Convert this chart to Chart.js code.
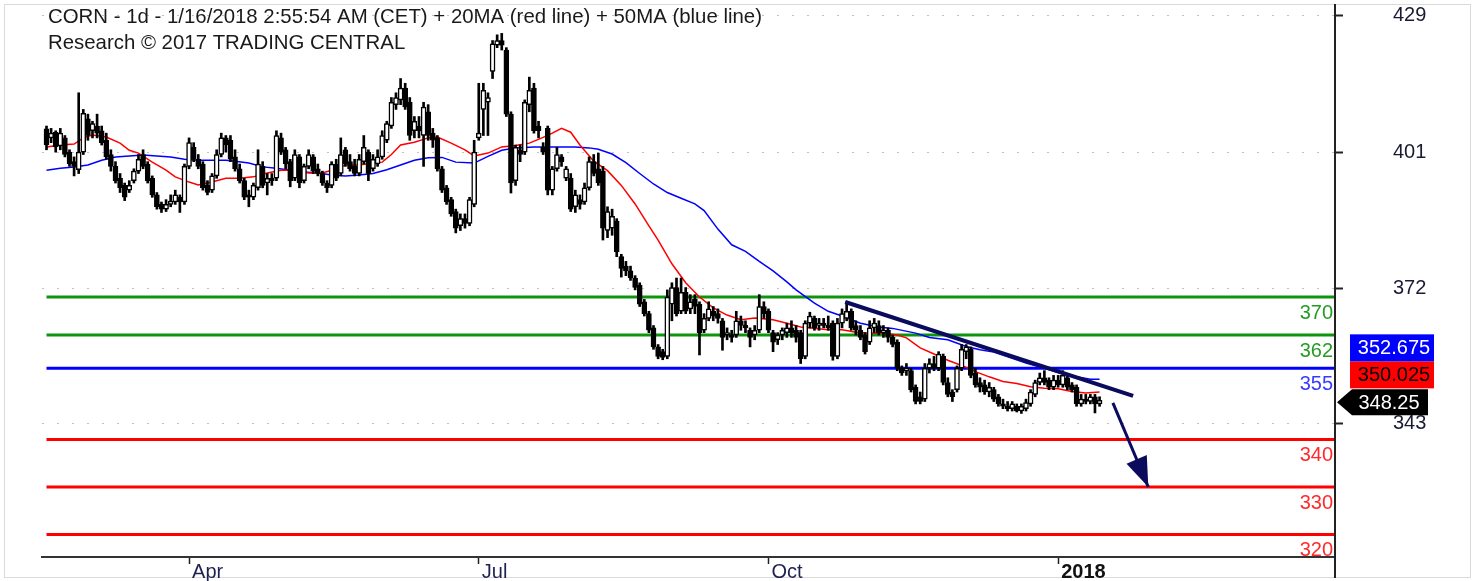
<!DOCTYPE html>
<html>
<head>
<meta charset="utf-8">
<title>CORN 1d</title>
<script src="https://cdn.jsdelivr.net/npm/chart.js@4.4.1/dist/chart.umd.min.js"></script>
<style>
  html, body { margin: 0; padding: 0; background: #fff; }
</style>
</head>
<body>
<canvas id="myChart" width="1477" height="581"></canvas>
<script>
// daily candles, x = trading day index (0 = mid Feb 2017)
const opens = [
  405.4,403.5,404.7,401.8,403.5,400.5,398.5,396.8,400.5,407.5,
  405,406,405,403,400,397.5,395,393.5,392.5,394.5,
  396.5,400,398,395,391.5,389.5,388.5,389.5,390,391,
  390,397.5,401.5,399,398,393.5,392.5,395.5,400,403.5,
  403,399.5,397,394.5,391.5,391,393,397.5,394,395,
  395,403.5,401,398.5,395,399.5,394.5,397.5,399.5,397,
  396,394,393.5,398,396,401,398.5,397.5,396,398.5,
  400.5,397,398,399.5,403,406,410.5,411.5,414,411,
  405,406,404,409,404.5,403.5,397,393,390.5,388,
  385,386.5,385.5,389.5,403.5,409.5,411,417.5,423,424,
  422,408.5,394.5,401,400.5,410.5,414,406,401.5,405.5,
  392.5,397,399.5,395,395,389,390.5,390,393,398.5,
  397,396.5,384,384.5,386,378.5,376.5,375.5,374,372.5,
  369,366.5,363.5,359.5,358.5,357.5,368.5,372,367,371,
  367.5,369.5,368.5,363,365.5,367,366.5,365,362,362,
  362,365,364,363,362,363,368,367,362.5,361,
  362,362.5,363.5,363,362.5,357.5,364.5,365.5,364,364.5,
  364,364.5,357.5,364.5,365.5,367,364,363,362,360.5,
  363.5,364,362.5,363,361.5,360.5,355,354.5,354.5,351,
  349,348.5,355,356,355,357.5,352,350,350.5,355,
  358.5,359,354,352,351.5,350,350.5,349,347.5,347,
  346.5,347,346,346.5,347.5,349.5,352,353,352.5,351,
  352.5,351.5,353,351.5,351,347.5,348.5,348,349,347.5
];
const highs = [
  406,405.5,405,405.5,404,401,399.5,413,409.5,408.5,
  407,408.5,406,404.5,401,398.5,396,394,394.5,397,
  400,401,398.5,395.5,392,390,390.5,391.5,392.5,391.5,
  398,403.5,402.5,400,398.5,394.5,396,401,404.5,404,
  404,401,398,395,392.5,394,401,398.5,396,396,
  405,404.5,401.5,399,401,400,398,401,400,398,
  396.5,394.5,398.5,399,403.5,401.5,400,399,400,404,
  401,400,401,405,407,412,413,416,415,412,
  408,408,411,410.5,405.5,404,397.5,393.5,391,388.5,
  387.5,387.5,391,403,415,415,413,424,425.2,425.5,
  422.5,409,402,402,411.5,416.3,415,407,402.5,406,
  397.5,401.5,400,397.5,396,392.5,391.5,394,399.5,400,
  400.3,397.5,389,388.5,386.5,379,377.5,376.5,374.5,373,
  369.5,367,364,360,359,371.5,373,374,374,372,
  370.5,370.5,369,366.5,369,368,367.5,365.5,363.5,363,
  367,366,365,363.5,364,370.5,369,367.5,363,362.5,
  363.5,364.5,365,364,363,365,366.8,366,365.5,365.5,
  366,365,365.5,367.5,369,367.5,365,364,362.5,365,
  365.5,365,364,363.5,362,361,355.5,356,355,351.5,
  350,356,357,357.5,358.5,358,353,350.5,355.5,360,
  360,359.5,355,353,352.5,352,351,349.5,348.5,348,
  348,347.5,347.5,348.5,350.5,352.5,354,354.5,353,353.5,
  353.5,354.5,353.5,352,351.5,349.5,349.5,349.5,349.5,349
];
const lows = [
  401,402.5,400.5,401,399.5,397.5,395.5,396,400,403,
  403.5,403.5,402,399,396.5,394,392,390.3,392,394,
  396,397,394,391,388.5,387.8,388,389,389.5,387.8,
  389.5,397,398.5,397,392.5,391.5,392,395,399.5,400.5,
  398.5,396.5,394,390.5,389,390.5,392.5,393,391.5,393.5,
  394.5,400,397,393.2,394.5,393,394,397,396,395.5,
  393.5,392,393,394.5,395.5,397.5,396.5,395.5,395.5,398,
  394.5,396.5,397.5,399,402.5,405.5,409.5,410.5,409.5,403,
  403.5,403.5,397.5,403,401.5,396.5,392,389.5,387,383.5,
  384,384.5,385,389,403,404,404,416,422.5,422,
  408,391.9,393.5,398.5,400,409,404.5,403.5,400,391.5,
  391.5,396.5,397.5,394.5,388,387.8,388.5,389.5,392.5,395.5,
  393.5,382,382.5,383,378.5,374.2,374.5,373.5,371.5,368,
  366,362.5,359,357,356.8,357,365,366,366.5,366.5,
  366.5,366.5,357.8,362.5,365,365,364.5,358.8,361,360.5,
  361.5,363,362.5,359.5,361,362.5,365.5,362.5,358.5,360,
  361,361.5,361.5,360.5,356,357,363.5,363,363,363.5,
  363,356.7,357,363.5,365,363,362,361,358,360,
  362.5,362,361.5,360.5,359.5,354.5,353.5,353.5,350,347.5,
  347.5,348,354,354.5,354.5,351.5,349,348,350,354.5,
  357,353,351,350,349.5,349,348,347,346.5,346,
  346,345.8,345.5,346,347,349,351.5,351.5,350.5,350.5,
  351,351,350.5,350,347,347,347.5,347.5,345.6,347
];
const closes = [
  402,404.5,401.6,404.5,400,398,397.5,400.5,408.7,404,
  406.5,404.5,402.5,399.5,397.5,394.5,393,391,393.5,396.5,
  399,397.5,394.5,391.5,389,388.5,389.5,390.2,391.5,390,
  397.5,402.5,399,397.5,393,392,395.5,400,403.5,402,
  399,397,394.5,391,391,393.5,398,393.5,395,394.5,
  404,400.5,398,394.5,400,394,397.5,400,396.5,396,
  394,393,398,395,400,398,397,396,399,401.5,
  396,399,399.5,404,406.5,411,412,414,410,404,
  407,405,410,404,403,397,392.5,390,387.5,384.5,
  386.5,385.5,390.5,400.5,404.5,413.5,412,423.3,424,423,
  408.5,394,401.5,400,411,413.5,405,405,400.5,392.5,
  397,400,398.5,397,388.5,391.5,389.5,393,398.5,396,
  394,384.5,388,387,379.5,376,375.5,374,372,368.5,
  366.5,363,359.5,357.5,357.3,370,372,366.5,371,367,
  369,368,362.5,365.5,367.5,366,365.5,361.5,362.5,361.5,
  365,364,363.5,361.5,363,368,366.5,363,360.5,362,
  363,363.5,362.5,361.5,357,364.5,366,363.5,364.5,364,
  363.5,357.5,364.5,366.5,367,363.5,363,361.5,358.5,363.5,
  364.5,362.5,363,361.5,360,355,354,355,350.5,348,
  348,355,356,355,358,352,349.5,349,355,359,
  359.5,353.5,351.5,351,350,351,348.5,347.5,347,346.5,
  347.5,346,347,347.8,350,352,353,352,351,352.5,
  351.5,353.5,351,350.5,347.5,348.5,348,349,347.5,348.25
];

// moving averages (day index, value)
const ma20X = [0,3,6,8,10,13,16,18,20,23,26,28,31,33,36,39,42,45,48,51,54,57,60,62,65,68,71,73,75,77,
  80,83,85,88,91,93,96,99,102,105,108,110,112,114,116,119,122,125,128,131,133,136,139,142,145,148,151,154,158,161,
  164,170,173,176,179,182,185,187,190,193,196,199,202,205,208,211,214,217,220,223,226,229];
const ma20Y = [401.6,402.0,402.2,403.5,404.1,403.7,402.4,400.9,400.3,398.4,396.7,395.3,394.2,393.6,394.2,395.0,395.0,395.3,396.1,396.7,
  396.7,396.1,396.1,396.7,397.8,397.8,398.2,398.4,400.0,402.0,402.6,403.5,403.7,402.4,401.0,399.7,400.3,401.6,401.9,402.4,
  403.6,404.5,405.5,404.7,402.0,398.6,396.6,393.5,389.6,385.0,382.0,377.0,373.0,370.0,367.7,366.2,365.2,365.6,365.2,364.5,
  363.7,363.1,363.1,362.6,362.4,362.4,362.0,361.4,359.3,358.0,356.7,355.6,354.3,353.2,352.2,351.8,351.1,350.8,350.7,350.1,
  349.8,350.025];
const ma50X = [0,3,6,9,12,15,18,21,24,27,30,33,36,39,41,44,47,50,53,56,59,62,65,68,71,74,77,80,83,86,
  89,93,96,99,102,106,110,115,118,120,123,126,129,132,135,138,141,143,146,149,152,155,158,161,163,167,170,173,177,181,
  184,189,192,196,200,203,206,210,213,217,220,224,227,229];
const ma50Y = [396.7,397.1,397.4,397.8,398.8,399.5,399.7,399.9,399.7,399.5,399.0,398.8,398.8,398.8,398.6,398.2,397.4,397.1,396.7,396.3,
  396.1,395.7,395.5,395.7,396.0,396.8,397.8,398.8,399.3,399.4,398.4,398.2,399.6,400.9,401.4,401.6,401.6,401.6,401.4,401.1,
  400.1,398.3,396.0,393.8,392.0,390.8,389.6,388.2,384.3,381.0,379.6,377.5,375.5,373.2,371.5,368.7,367.0,366.0,364.5,363.7,
  363.4,362.4,361.5,361.0,359.6,358.9,358.4,357.1,356.1,355.0,354.1,353.2,352.7,352.675];

// support / resistance levels
const levelValues = [370, 362, 355, 340, 330, 320];
const levelColors = ['#0d960d', '#0d960d', '#0000ff', '#ff0000', '#ff0000', '#ff0000'];
const levelTextColors = ['#249c24', '#249c24', '#3a3aff', '#ff2a2a', '#ff2a2a', '#ff2a2a'];

const trendX = [173.7, 236.3];
const trendY = [368.95, 349.2];
const arrowX = [231.9, 239.6];
const arrowY = [347.7, 330.0];

const xTickIdx = [31, 94, 157, 220];
const xTickLabels = ['Apr', 'Jul', 'Oct', '2018'];
const yTickVals = [343.3, 371.75, 400.4, 429.2];
const yTickLabels = ['343', '372', '401', '429'];

const titleLines = [
  'CORN - 1d - 1/16/2018 2:55:54 AM (CET) + 20MA (red line) + 50MA (blue line)',
  'Research \u00a9 2017 TRADING CENTRAL'
];

const xMin = -0.98, xMax = 280.2;
const yMin = 315.27, yMax = 431.48;
const FONT = '"Liberation Sans", Arial, sans-serif';
const NAVY = '#0b0b5e';

const bodies = closes.map((c, i) => ({ x: i, y: [opens[i], c] }));
const wicks = closes.map((c, i) => ({ x: i, y: [lows[i], highs[i]] }));
const pts = (xs, ys) => xs.map((x, i) => ({ x: x, y: ys[i] }));

const levelSets = levelValues.map((v, k) => ({
  type: 'line',
  data: [{ x: 0, y: v }, { x: xMax, y: v }],
  borderColor: levelColors[k],
  borderWidth: 3,
  pointRadius: 0,
  order: 5
}));

const overlay = {
  id: 'overlay',
  beforeDraw(chart) {
    const ctx = chart.ctx;
    ctx.save();
    ctx.fillStyle = '#fff';
    ctx.fillRect(0, 0, chart.width, chart.height);
    ctx.strokeStyle = '#dadada';
    ctx.lineWidth = 1;
    ctx.strokeRect(4.5, 4.5, 1466, 573);
    ctx.restore();
  },
  afterDraw(chart) {
    const { ctx, chartArea, scales } = chart;
    const xs = scales.x, ys = scales.y;
    const right = chartArea.right;
    ctx.save();

    // price axis line, full height
    ctx.strokeStyle = '#222';
    ctx.lineWidth = 2;
    ctx.beginPath();
    ctx.moveTo(right, 4);
    ctx.lineTo(right, 578);
    ctx.stroke();

    // title
    ctx.font = '20.4px ' + FONT;
    ctx.fillStyle = '#1a1a1a';
    ctx.textBaseline = 'middle';
    ctx.textAlign = 'left';
    ctx.fillText(titleLines[0], 48, 17);
    ctx.fillText(titleLines[1], 48, 43);

    // level labels
    ctx.font = '20px ' + FONT;
    ctx.textAlign = 'right';
    levelValues.forEach((v, k) => {
      ctx.fillStyle = levelTextColors[k];
      ctx.fillText(String(v), right - 2, ys.getPixelForValue(v) + 16);
    });

    // arrow head
    const n = arrowX.length - 1;
    const tx = xs.getPixelForValue(arrowX[n]), ty = ys.getPixelForValue(arrowY[n]);
    const fx = xs.getPixelForValue(arrowX[n - 1]), fy = ys.getPixelForValue(arrowY[n - 1]);
    const ang = Math.atan2(ty - fy, tx - fx);
    const len = 30, half = 11;
    const bx = tx - len * Math.cos(ang), by = ty - len * Math.sin(ang);
    ctx.fillStyle = NAVY;
    ctx.beginPath();
    ctx.moveTo(tx, ty);
    ctx.lineTo(bx + half * Math.sin(ang), by - half * Math.cos(ang));
    ctx.lineTo(bx - half * Math.sin(ang), by + half * Math.cos(ang));
    ctx.closePath();
    ctx.fill();

    // value boxes
    const last = closes.length - 1;
    const yc = ys.getPixelForValue(closes[last]) + 2;
    const h = 26;
    ctx.fillStyle = '#000';
    ctx.beginPath();
    ctx.moveTo(right + 2, yc);
    ctx.lineTo(right + 17, yc - h / 2);
    ctx.lineTo(1428, yc - h / 2);
    ctx.lineTo(1428, yc + h / 2);
    ctx.lineTo(right + 17, yc + h / 2);
    ctx.closePath();
    ctx.fill();
    ctx.textAlign = 'center';
    ctx.fillStyle = '#fff';
    ctx.fillText(String(closes[last]), 1389, yc + 1);

    const redTop = yc - h / 2 - 1 - 27;
    ctx.fillStyle = '#ff0000';
    ctx.fillRect(1350, redTop, 84, 27);
    ctx.fillStyle = '#000';
    ctx.fillText(ma20Y[ma20Y.length - 1].toFixed(3), 1394, redTop + 14.5);

    ctx.fillStyle = '#0000ff';
    ctx.fillRect(1350, redTop - 27, 84, 27);
    ctx.fillStyle = '#fff';
    ctx.fillText(ma50Y[ma50Y.length - 1].toFixed(3), 1394, redTop - 12.5);

    ctx.restore();
  }
};

new Chart(document.getElementById('myChart'), {
  type: 'bar',
  data: {
    datasets: [
      {
        type: 'line', data: pts(arrowX, arrowY), borderColor: NAVY, borderWidth: 3,
        pointRadius: 0, order: 0
      },
      {
        type: 'line', data: pts(trendX, trendY), borderColor: NAVY, borderWidth: 4,
        pointRadius: 0, order: 0
      },
      {
        label: 'body', data: bodies,
        backgroundColor: closes.map((c, i) => c >= opens[i] ? '#ffffff' : '#000000'),
        borderColor: '#000', borderWidth: 1.5, borderSkipped: false,
        barThickness: 5, minBarLength: 2.5, grouped: false, order: 1
      },
      {
        label: 'wick', data: wicks, backgroundColor: '#000', borderWidth: 0,
        barThickness: 2, grouped: false, order: 2
      },
      {
        type: 'line', label: '20MA', data: pts(ma20X, ma20Y), borderColor: '#ff0000',
        borderWidth: 1.5, pointRadius: 0, order: 3
      },
      {
        type: 'line', label: '50MA', data: pts(ma50X, ma50Y), borderColor: '#0000ff',
        borderWidth: 1.5, pointRadius: 0, order: 4
      },
      ...levelSets
    ]
  },
  options: {
    responsive: false,
    animation: false,
    devicePixelRatio: 1,
    layout: { padding: { left: 42, top: 5, right: 0, bottom: 0 }, autoPadding: false },
    plugins: { legend: { display: false }, tooltip: { enabled: false } },
    scales: {
      x: {
        type: 'linear', min: xMin, max: xMax, offset: false, bounds: 'data',
        afterFit: s => { s.height = 24; s.paddingLeft = 0; s.paddingRight = 0; },
        afterBuildTicks: s => { s.ticks = xTickIdx.map(v => ({ value: v })); },
        grid: { offset: false, drawOnChartArea: false, drawTicks: true, tickLength: 7, tickColor: '#222', tickWidth: 1.5 },
        border: { display: true, color: '#333', width: 2 },
        ticks: {
          align: 'start', labelOffset: 3, padding: -4, maxRotation: 0, autoSkip: false,
          color: ctx => ctx.index === 3 ? '#111' : '#1e2250',
          font: ctx => ({ family: FONT, size: 20, weight: ctx.index === 3 ? 'bold' : 'normal' }),
          callback: (v, i) => xTickLabels[i]
        }
      },
      y: {
        type: 'linear', position: 'right', min: yMin, max: yMax, bounds: 'data',
        afterFit: s => { s.width = 142; s.paddingTop = 0; s.paddingBottom = 0; },
        afterBuildTicks: s => { s.ticks = yTickVals.map(v => ({ value: v })); },
        grid: { color: '#c2c2c2', lineWidth: 1, drawTicks: true, tickLength: 8, tickColor: '#222', tickWidth: 2 },
        border: { display: false, dash: [2, 13] },
        ticks: {
          padding: 50, color: '#1a1a33', font: { family: FONT, size: 20 },
          callback: (v, i) => yTickLabels[i]
        }
      }
    }
  },
  plugins: [overlay]
});
</script>
</body>
</html>
